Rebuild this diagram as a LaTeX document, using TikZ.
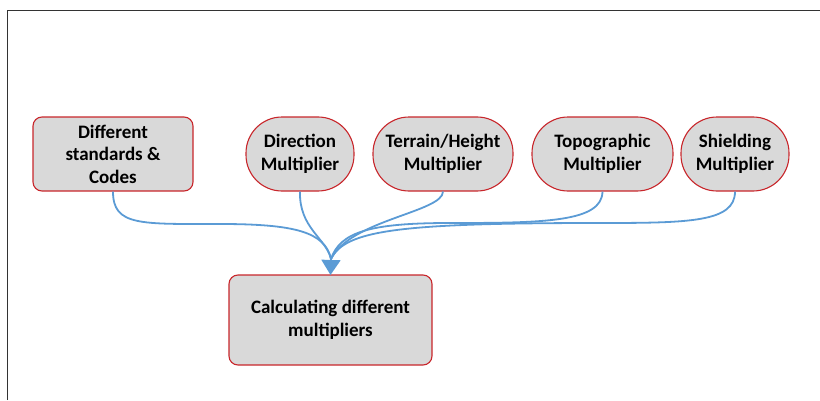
\documentclass[tikz,border=0pt]{standalone}
\usepackage{fontspec}
\setmainfont{Carlito}
\usetikzlibrary{arrows.meta}
\definecolor{boxfill}{HTML}{D9D9D9}
\definecolor{boxline}{HTML}{C8262B}
\definecolor{linkblue}{HTML}{5B9BD5}
\tikzset{
  base/.style={draw=boxline, fill=boxfill, line width=1.1pt, align=center,
    font=\fontsize{19}{22.5}\selectfont\bfseries, inner sep=0pt},
  rbox/.style={base, rounded corners=9pt},
  pill/.style={base, rounded corners=36pt},
  link/.style={draw=linkblue, line width=1.8pt},
}
\begin{document}
\begin{tikzpicture}[x=1pt, y=1pt]
\useasboundingbox (0,0) rectangle (820,400);
% frame
\draw[line width=0.8pt, black!80] (7,0) -- (7,390) -- (820,390);
% nodes
\node[rbox, minimum width=160pt, minimum height=74pt] (codes) at (113,246) {Different\\standards \&\\Codes};
\node[pill, minimum width=108pt, minimum height=74pt] (dir) at (300,246) {Direction\\Multiplier};
\node[pill, minimum width=140pt, minimum height=74pt] (ter) at (443,246) {Terrain/Height\\Multiplier};
\node[pill, minimum width=141pt, minimum height=74pt] (topo) at (602.5,246) {Topographic\\Multiplier};
\node[pill, minimum width=108pt, minimum height=74pt] (shi) at (735,246) {Shielding\\Multiplier};
\node[rbox, minimum width=203pt, minimum height=90pt, font=\fontsize{19}{23}\selectfont\bfseries] (calc) at (330.5,80) {Calculating different\\multipliers};
\coordinate (m) at (331,141);
% connectors
\draw[link] (codes.south) .. controls (113,174) and (140,176) .. (220,176) .. controls (295,176) and (325,168) .. (m);
\draw[link] (dir.south) .. controls (299,172) and (326,162) .. (m);
\draw[link] (ter.south) .. controls (443,188) and (350,180) .. (m);
\draw[link] (topo.south) .. controls (602,178) and (545,177) .. (450,177) .. controls (370,177) and (340,168) .. (m);
\draw[link] (shi.south) .. controls (735,178) and (690,177) .. (600,177) .. controls (400,177) and (345,170) .. (m);
\draw[link, -{Triangle[length=15pt, width=19pt]}, shorten >=-0.5pt] (m) -- (calc.north);
\end{tikzpicture}
\end{document}
